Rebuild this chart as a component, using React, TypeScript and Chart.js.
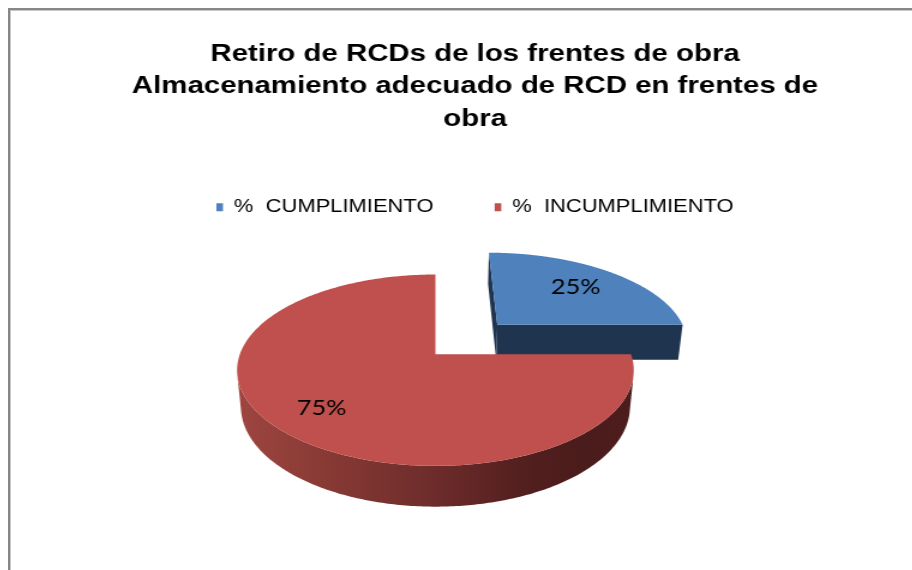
import React, { useEffect, useRef } from "react";
import { Chart, registerables } from "chart.js";

Chart.register(...registerables);

// ---- data ----
const categories = ["%  CUMPLIMIENTO", "%  INCUMPLIMIENTO"];
const values = [25, 75];
const titleLines = [
  "Retiro de RCDs de los frentes de obra",
  "Almacenamiento adecuado de RCD en frentes de",
  "obra",
];

// ---- styles ----
const TOP_COLORS = ["#4F81BD", "#C0504D"];
const SIDE_STOPS: [number, string][][] = [
  [[0, "#1F344F"]],
  [
    [0, "#9e4540"],
    [0.24, "#863934"],
    [0.5, "#6d2c2b"],
    [0.73, "#531f1f"],
    [0.88, "#4a1c1b"],
    [1, "#4c1d1c"],
  ],
];
const STRETCH = 1.2;
const FONT = "'Liberation Sans', Arial, sans-serif";

const pie3dPlugin = {
  id: "pie3d",
  beforeDatasetsDraw(chart: any, _args: any, opts: any) {
    const meta = chart.getDatasetMeta(0);
    const arcs = meta.data as any[];
    if (!arcs || !arcs.length) return false;
    const ctx = chart.ctx as CanvasRenderingContext2D;
    const SX = opts.stretch;
    const cx = arcs[0].x + opts.dx;
    const cy = arcs[0].y + opts.dy;
    const phi = (opts.elevation * Math.PI) / 180;
    const sp = Math.sin(phi);
    const cp = Math.cos(phi);
    const L = opts.distance;
    const h = opts.depth;
    const camX = 0;
    const camZ = -L * cp;
    const proj = (X: number, Y: number, Z: number): [number, number] => {
      const d = L - Y * sp + Z * cp;
      return [cx + (X * L) / d / SX, cy - ((Y * cp + Z * sp) * L) / d];
    };
    const ds = chart.data.datasets[0];
    const dataVals = ds.data as number[];
    const total = dataVals.reduce((s: number, v: number) => s + v, 0);

    const slices = arcs.map((arc: any, i: number) => {
      const R = arc.outerRadius * SX;
      const off = (arc.options.offset || 0) * SX;
      const a0 = arc.startAngle;
      const a1 = arc.endAngle;
      const mid = (a0 + a1) / 2;
      return { i, R, a0, a1, mid, Cx: off * Math.cos(mid), Cz: -off * Math.sin(mid) };
    });
    const rim = (s: any, a: number, Y: number) =>
      proj(s.Cx + s.R * Math.cos(a), Y, s.Cz - s.R * Math.sin(a));

    const sideFill = (s: any) => {
      const stops = opts.sideStops[s.i] as [number, string][];
      if (stops.length === 1) return stops[0][1];
      const xl = proj(s.Cx - s.R, 0, s.Cz)[0];
      const xr = proj(s.Cx + s.R, 0, s.Cz)[0];
      const g = ctx.createLinearGradient(xl, 0, xr, 0);
      stops.forEach(([o, c]) => g.addColorStop(o, c));
      return g;
    };

    const order = [...slices].sort((p: any, q: any) => q.Cz - p.Cz);
    ctx.save();
    for (const s of order) {
      const fill = sideFill(s);
      // radial faces
      const faces = [
        { a: s.a0, nx: Math.sin(s.a0), nz: Math.cos(s.a0) },
        { a: s.a1, nx: -Math.sin(s.a1), nz: -Math.cos(s.a1) },
      ];
      for (const f of faces) {
        const vis = (camX - s.Cx) * f.nx + (camZ - s.Cz) * f.nz;
        if (vis > 0.5) {
          const p1 = proj(s.Cx, 0, s.Cz);
          const p2 = rim(s, f.a, 0);
          const p3 = rim(s, f.a, -h);
          const p4 = proj(s.Cx, -h, s.Cz);
          ctx.beginPath();
          ctx.moveTo(p1[0], p1[1]);
          ctx.lineTo(p2[0], p2[1]);
          ctx.lineTo(p3[0], p3[1]);
          ctx.lineTo(p4[0], p4[1]);
          ctx.closePath();
          ctx.fillStyle = fill;
          ctx.fill();
        }
      }
      // outer wall
      const N = 360;
      const runs: number[][] = [];
      let cur: number[] | null = null;
      for (let k = 0; k <= N; k++) {
        const a = s.a0 + ((s.a1 - s.a0) * k) / N;
        const vis = (camX - s.Cx) * Math.cos(a) + (camZ - s.Cz) * -Math.sin(a) > s.R;
        if (vis) {
          if (!cur) {
            cur = [];
            runs.push(cur);
          }
          cur.push(a);
        } else cur = null;
      }
      for (const run of runs) {
        if (run.length < 2) continue;
        ctx.beginPath();
        run.forEach((a, k) => {
          const p = rim(s, a, 0);
          if (k === 0) ctx.moveTo(p[0], p[1]);
          else ctx.lineTo(p[0], p[1]);
        });
        for (let k = run.length - 1; k >= 0; k--) {
          const p = rim(s, run[k], -h);
          ctx.lineTo(p[0], p[1]);
        }
        ctx.closePath();
        ctx.fillStyle = fill;
        ctx.fill();
      }
      // top face
      ctx.beginPath();
      const ap = proj(s.Cx, 0, s.Cz);
      ctx.moveTo(ap[0], ap[1]);
      for (let k = 0; k <= N; k++) {
        const a = s.a0 + ((s.a1 - s.a0) * k) / N;
        const p = rim(s, a, 0);
        ctx.lineTo(p[0], p[1]);
      }
      ctx.closePath();
      ctx.fillStyle = ds.backgroundColor[s.i];
      ctx.fill();
    }
    // data labels
    ctx.fillStyle = opts.labelColor;
    ctx.font = opts.labelFont;
    ctx.textAlign = "center";
    ctx.textBaseline = "middle";
    for (const s of slices) {
      const f = opts.labelRadius[s.i];
      const p = proj(
        s.Cx + f * s.R * Math.cos(s.mid),
        0,
        s.Cz - f * s.R * Math.sin(s.mid)
      );
      const pct = Math.round((dataVals[s.i] / total) * 100) + "%";
      ctx.fillText(pct, p[0], p[1]);
    }
    ctx.restore();
    return false;
  },
};

export default function App() {
  const ref = useRef<HTMLCanvasElement>(null);
  useEffect(() => {
    if (!ref.current) return;
    const chart = new Chart(ref.current, {
      type: "pie",
      data: {
        labels: categories,
        datasets: [
          {
            data: values,
            backgroundColor: TOP_COLORS,
            borderWidth: 0,
            offset: [77, 0],
            radius: 163,
          } as any,
        ],
      },
      options: {
        animation: false,
        responsive: false,
        maintainAspectRatio: false,
        devicePixelRatio: 1,
        events: [],
        plugins: {
          title: {
            display: true,
            text: titleLines,
            color: "#000",
            font: { family: FONT, size: 24.5, weight: "bold", lineHeight: 1.335 },
            padding: { top: 27.6, bottom: 11.5 },
          },
          legend: {
            display: true,
            position: "top",
            labels: {
              boxWidth: 5.5,
              boxHeight: 8,
              padding: 51,
              color: "#000",
              font: { family: FONT, size: 18.3 },
            },
          },
          tooltip: { enabled: false },
          pie3d: {
            stretch: STRETCH,
            dx: -33,
            dy: -64,
            elevation: 28.4,
            distance: 1034,
            depth: 42,
            sideStops: SIDE_STOPS,
            labelRadius: [0.68, 0.75],
            labelFont: "21px Lato, 'Noto Sans', sans-serif",
            labelColor: "#000",
          },
        } as any,
      },
      plugins: [pie3dPlugin as any],
    });
    return () => chart.destroy();
  }, []);

  return (
    <div
      style={{
        position: "fixed",
        left: 0,
        top: 0,
        width: 912,
        height: 570,
        overflow: "hidden",
        background: "#fff",
      }}
    >
      <div
        style={{
          position: "absolute",
          left: 8,
          top: 8,
          width: 1000,
          height: 700,
          borderTop: "2px solid #878787",
          borderLeft: "2px solid #878787",
          boxShadow: "inset 1px 1px 0 #c6c6c6",
        }}
      >
        <canvas
          ref={ref}
          width={775}
          height={600}
          style={{ width: "930px", height: "600px", display: "block" }}
        />
      </div>
    </div>
  );
}
